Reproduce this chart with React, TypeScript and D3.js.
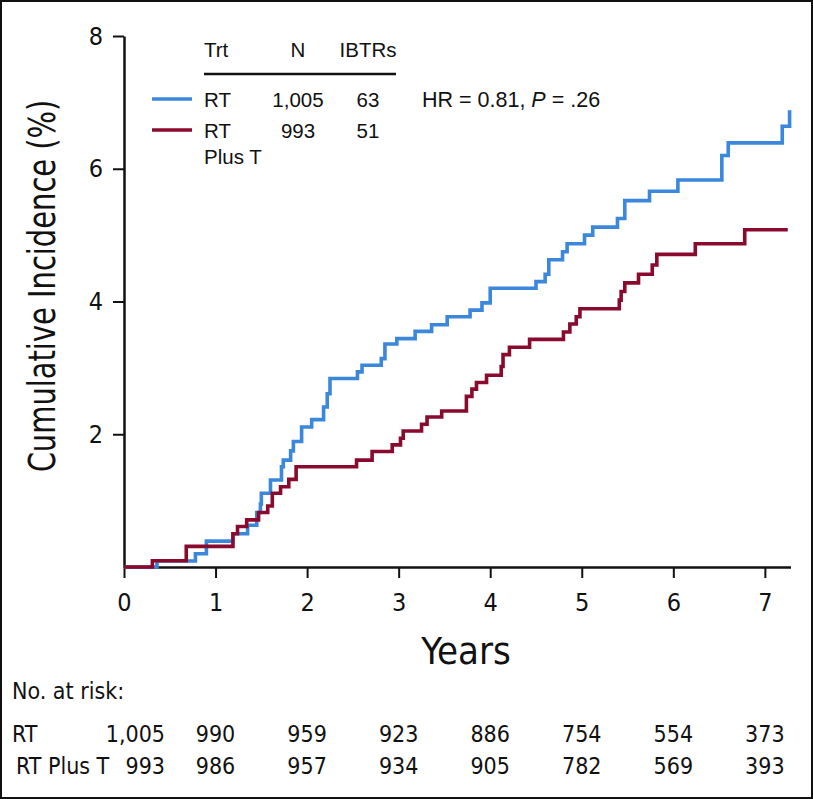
import React, { useEffect, useRef } from 'react';
import * as d3 from 'd3';

// years since randomisation, cumulative incidence (%) after each step
const rtSteps: [number, number][] = [
  [0, 0], [0.36, 0.09], [0.78, 0.2], [0.9, 0.39], [1.19, 0.5], [1.35, 0.63],
  [1.45, 0.82], [1.49, 0.95], [1.5, 1.11], [1.6, 1.31], [1.72, 1.51], [1.74, 1.61],
  [1.82, 1.75], [1.85, 1.89], [1.94, 2.11], [2.05, 2.22], [2.18, 2.41], [2.22, 2.61],
  [2.25, 2.84], [2.55, 2.94], [2.6, 3.04], [2.81, 3.14], [2.85, 3.36], [2.98, 3.44],
  [3.18, 3.55], [3.36, 3.65], [3.53, 3.77], [3.78, 3.87], [3.91, 3.98], [4.0, 4.2],
  [4.5, 4.3], [4.6, 4.41], [4.64, 4.63], [4.79, 4.75], [4.84, 4.87], [5.03, 5.0],
  [5.12, 5.12], [5.39, 5.25], [5.47, 5.52], [5.74, 5.66], [6.05, 5.83], [6.53, 6.2],
  [6.6, 6.39], [7.19, 6.64], [7.27, 6.88],
];
const rtPlusTSteps: [number, number][] = [
  [0, 0], [0.31, 0.095], [0.68, 0.31], [1.19, 0.5], [1.24, 0.61], [1.34, 0.71],
  [1.47, 0.82], [1.57, 0.92], [1.62, 1.11], [1.71, 1.21], [1.8, 1.32], [1.88, 1.51],
  [2.54, 1.61], [2.71, 1.74], [2.93, 1.84], [3.02, 1.94], [3.05, 2.05], [3.25, 2.15],
  [3.31, 2.26], [3.47, 2.35], [3.74, 2.57], [3.8, 2.68], [3.85, 2.78], [3.96, 2.89],
  [4.12, 3.02], [4.14, 3.2], [4.21, 3.31], [4.43, 3.43], [4.8, 3.54], [4.87, 3.66],
  [4.94, 3.77], [4.98, 3.89], [5.41, 4.02], [5.43, 4.15], [5.47, 4.28], [5.62, 4.41],
  [5.77, 4.55], [5.82, 4.71], [6.24, 4.87], [6.78, 5.08], [7.25, 5.08],
];

const yearTicks = [0, 1, 2, 3, 4, 5, 6, 7];
const pctTicks = [2, 4, 6, 8];
const riskRT = ['1,005', '990', '959', '923', '886', '754', '554', '373'];
const riskRTPlusT = ['993', '986', '957', '934', '905', '782', '569', '393'];
const legendRows = [
  { trt: 'RT', n: '1,005', events: '63' },
  { trt: 'RT', n: '993', events: '51' },
];

const BLUE = '#3a87dc';
const RED = '#8a0a2e';
const COND = '"Liberation Sans Narrow", "DejaVu Sans Condensed", "Arial Narrow", sans-serif';
const SANS = '"Liberation Sans", Arial, sans-serif';

export default function App() {
  const ref = useRef<SVGSVGElement>(null);

  useEffect(() => {
    const svg = d3.select(ref.current);
    svg.selectAll('*').remove();

    const x = d3.scaleLinear().domain([0, 7.28]).range([124, 790.5]);
    const y = d3.scaleLinear().domain([0, 8]).range([567, 36]);

    svg.append('rect')
      .attr('x', 1).attr('y', 1).attr('width', 811).attr('height', 797)
      .attr('fill', 'white').attr('stroke', '#111').attr('stroke-width', 2);

    // axes
    const yAxis = svg.append('g').attr('transform', `translate(${x(0)},0)`)
      .call(d3.axisLeft(y).tickValues(pctTicks).tickSize(11).tickPadding(10).tickSizeOuter(0));
    const xAxis = svg.append('g').attr('transform', `translate(0,${y(0)})`)
      .call(d3.axisBottom(x).tickValues(yearTicks).tickSize(11).tickPadding(15).tickSizeOuter(0));
    [yAxis, xAxis].forEach((g) => {
      g.select('.domain').attr('stroke', '#111').attr('stroke-width', 2.5);
      g.selectAll('.tick line').attr('stroke', '#111').attr('stroke-width', 2);
      g.selectAll('.tick text')
        .attr('font-family', COND).attr('font-size', 25).attr('fill', '#111');
    });

    svg.append('text')
      .attr('transform', `translate(55,286) rotate(-90) scale(0.87,1)`)
      .attr('text-anchor', 'middle')
      .attr('font-family', COND).attr('font-size', 37).attr('fill', '#111')
      .text('Cumulative Incidence (%)');

    svg.append('text')
      .attr('x', 466).attr('y', 664)
      .attr('text-anchor', 'middle')
      .attr('font-family', COND).attr('font-size', 38).attr('fill', '#111')
      .text('Years');

    // step curves
    const line = d3.line<[number, number]>()
      .x((d) => x(d[0]))
      .y((d) => y(d[1]))
      .curve(d3.curveStepAfter);
    svg.append('path').attr('d', line(rtSteps))
      .attr('fill', 'none').attr('stroke', BLUE).attr('stroke-width', 3.6);
    svg.append('path').attr('d', line(rtPlusTSteps))
      .attr('fill', 'none').attr('stroke', RED).attr('stroke-width', 3.6);

    // legend table
    const leg = svg.append('g').attr('font-family', SANS).attr('font-size', 20.5).attr('fill', '#111');
    leg.append('text').attr('x', 204).attr('y', 57).text('Trt');
    leg.append('text').attr('x', 298).attr('y', 57).attr('text-anchor', 'middle').text('N');
    leg.append('text').attr('x', 368).attr('y', 57).attr('text-anchor', 'middle').text('IBTRs');
    leg.append('line')
      .attr('x1', 204).attr('x2', 396).attr('y1', 74).attr('y2', 74)
      .attr('stroke', '#111').attr('stroke-width', 2.5);
    legendRows.forEach((r, i) => {
      const yy = 107 + i * 31;
      leg.append('line')
        .attr('x1', 152).attr('x2', 192).attr('y1', yy - 8).attr('y2', yy - 8)
        .attr('stroke', i === 0 ? BLUE : RED).attr('stroke-width', 3.6);
      leg.append('text').attr('x', 204).attr('y', yy).text(r.trt);
      leg.append('text').attr('x', 298).attr('y', yy).attr('text-anchor', 'middle').text(r.n);
      leg.append('text').attr('x', 368).attr('y', yy).attr('text-anchor', 'middle').text(r.events);
    });
    leg.append('text').attr('x', 204).attr('y', 164).text('Plus T');
    const hr = leg.append('text').attr('x', 422).attr('y', 107).attr('font-size', 21.5);
    hr.append('tspan').text('HR = 0.81, ');
    hr.append('tspan').attr('font-style', 'italic').text('P');
    hr.append('tspan').text(' = .26');

    // number at risk
    const risk = svg.append('g').attr('font-family', COND).attr('font-size', 23).attr('fill', '#111');
    risk.append('text').attr('x', 12).attr('y', 699).text('No. at risk:');
    [
      { label: 'RT', vals: riskRT, yy: 742, lx: 12 },
      { label: 'RT Plus T', vals: riskRTPlusT, yy: 774, lx: 16 },
    ].forEach((row) => {
      risk.append('text').attr('x', row.lx).attr('y', row.yy).text(row.label);
      row.vals.forEach((v, i) => {
        risk.append('text')
          .attr('x', i === 0 ? 165 : x(yearTicks[i]))
          .attr('y', row.yy)
          .attr('text-anchor', i === 0 ? 'end' : 'middle')
          .text(v);
      });
    });
  }, []);

  return (
    <svg ref={ref} width={813} height={799}
      style={{ position: 'absolute', left: 0, top: 0, background: 'white' }} />
  );
}
